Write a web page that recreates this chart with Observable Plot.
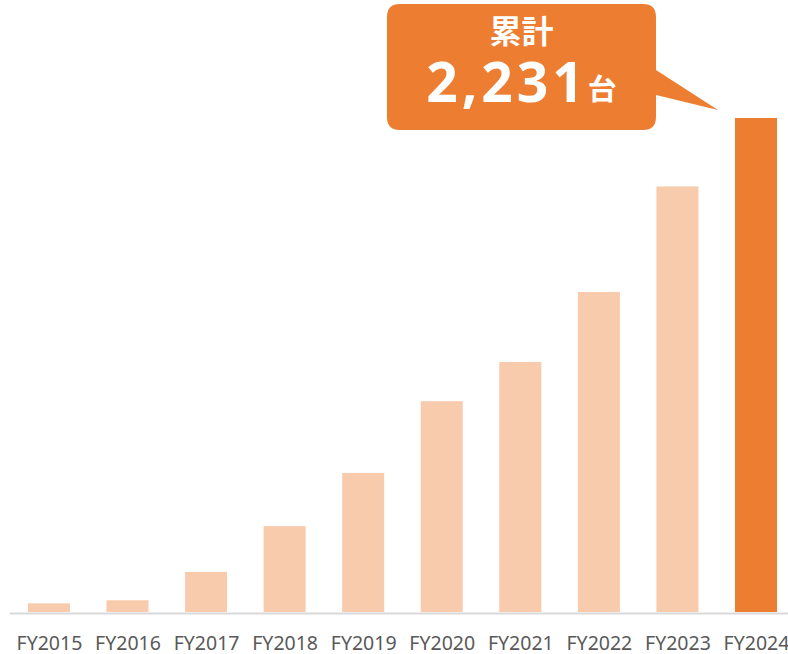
<!DOCTYPE html>
<html>
<head>
<meta charset="utf-8">
<script src="https://cdn.jsdelivr.net/npm/d3@7"></script>
<script src="https://cdn.jsdelivr.net/npm/@observablehq/plot@0.6"></script>
<style>
  html, body { margin: 0; padding: 0; background: #ffffff; }
  #chart { width: 788px; height: 654px; }
</style>
</head>
<body>
<div id="chart"></div>
<script>
const years = ["FY2015","FY2016","FY2017","FY2018","FY2019","FY2020","FY2021","FY2022","FY2023","FY2024"];
const units = [39, 53, 181, 388, 628, 952, 1129, 1445, 1922, 2231];
const highlightYear = "FY2024";
const calloutTitle = "累計";
const calloutValue = "2,231";
const calloutUnit = "台";

const data = years.map((y, i) => ({year: y, value: units[i]}));
const total = units[units.length - 1];

function callout(index, scales, values, dimensions) {
  const ns = "http://www.w3.org/2000/svg";
  const g = document.createElementNS(ns, "g");
  const x0 = scales.x(highlightYear);
  const yt = scales.y(total);
  const left = x0 - 348, right = x0 - 79, top = yt - 114, bottom = yt + 12;
  const r = 13;
  const tipX = x0 - 17, tipY = yt - 8;
  const pA = yt - 48, pB = yt - 23;
  const path = document.createElementNS(ns, "path");
  path.setAttribute("d",
    `M${left + r},${top} H${right - r} Q${right},${top} ${right},${top + r} V${pA} L${tipX},${tipY} L${right},${pB} V${bottom - r} Q${right},${bottom} ${right - r},${bottom} H${left + r} Q${left},${bottom} ${left},${bottom - r} V${top + r} Q${left},${top} ${left + r},${top} Z`);
  path.setAttribute("fill", "#ED7D31");
  g.appendChild(path);
  const cx = (left + right) / 2;
  const t1 = document.createElementNS(ns, "text");
  t1.setAttribute("x", cx);
  t1.setAttribute("y", top + 39);
  t1.setAttribute("text-anchor", "middle");
  t1.setAttribute("fill", "#ffffff");
  t1.setAttribute("font-weight", "bold");
  t1.setAttribute("font-size", "32");
  t1.setAttribute("font-family", "'Noto Sans CJK JP', sans-serif");
  t1.textContent = calloutTitle;
  g.appendChild(t1);
  const t2 = document.createElementNS(ns, "text");
  t2.setAttribute("x", cx);
  t2.setAttribute("y", top + 97.5);
  t2.setAttribute("text-anchor", "middle");
  t2.setAttribute("fill", "#ffffff");
  t2.setAttribute("font-weight", "bold");
  t2.setAttribute("font-family", "'Noto Sans', 'Noto Sans CJK JP', sans-serif");
  const s1 = document.createElementNS(ns, "tspan");
  s1.setAttribute("font-size", "55");
  s1.setAttribute("letter-spacing", "4");
  s1.textContent = calloutValue;
  const s2 = document.createElementNS(ns, "tspan");
  s2.setAttribute("font-size", "29");
  s2.setAttribute("font-family", "'Noto Sans CJK JP', sans-serif");
  s2.setAttribute("dy", "-2");
  s2.textContent = calloutUnit;
  t2.appendChild(s1);
  t2.appendChild(s2);
  g.appendChild(t2);
  return g;
}

const chart = Plot.plot({
  width: 788,
  height: 654,
  marginLeft: 10,
  marginRight: 0,
  marginTop: 118,
  marginBottom: 42,
  style: {fontFamily: "'Noto Sans', sans-serif", background: "#ffffff", overflow: "visible"},
  x: {domain: years, paddingInner: 0.465, paddingOuter: 0.184, align: 0.62, round: false, label: null},
  y: {domain: [0, total], axis: null},
  marks: [
    Plot.barY(data, {x: "year", y: "value", fill: d => d.year === highlightYear ? "#ED7D31" : "#F8CBAD"}),
    Plot.ruleY([0], {stroke: "#D9D9D9", strokeWidth: 2, dy: 1}),
    Plot.axisX({tickSize: 0, tickPadding: 24, fontSize: 19.5, fill: "#595959", label: null}),
    callout
  ]
});
document.getElementById("chart").appendChild(chart);
</script>
</body>
</html>
